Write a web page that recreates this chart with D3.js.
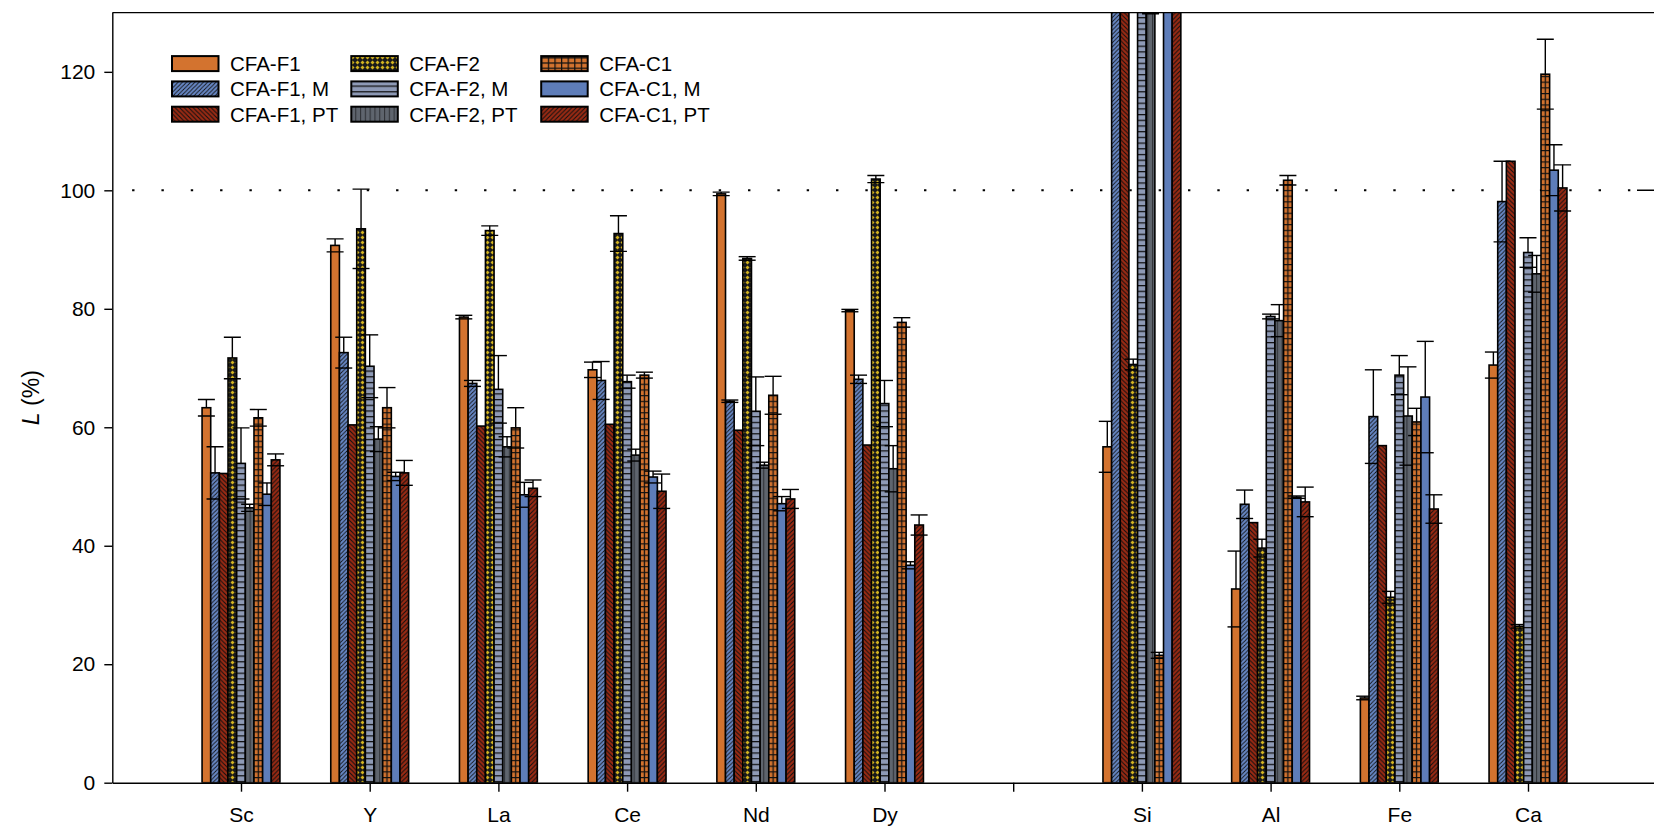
<!DOCTYPE html>
<html>
<head>
<meta charset="utf-8">
<script src="https://cdn.jsdelivr.net/npm/d3@7"></script>
<style>
  body { margin: 0; background: #fff; }
  text { font-family: "Liberation Sans", Arial, sans-serif; fill: #000; }
</style>
</head>
<body>
<svg id="chart" width="1654" height="826"></svg>
<script>
// Elements on the x axis (the empty slot separates REEs from major elements)
const categories = ["Sc", "Y", "La", "Ce", "Nd", "Dy", "", "Si", "Al", "Fe", "Ca"];
const seriesNames = ["CFA-F1", "CFA-F1, M", "CFA-F1, PT",
                     "CFA-F2", "CFA-F2, M", "CFA-F2, PT",
                     "CFA-C1", "CFA-C1, M", "CFA-C1, PT"];

// Leaching efficiency L (%) and its error, one array per sample
const f1     = [63.3, 90.7, 78.6, 69.7, 99.4, 79.7, null, 56.7, 32.7, 14.3, 70.5];
const f1Err  = [1.4, 1.1, 0.3, 1.3, 0.3, 0.2, null, 4.3, 6.4, 0.3, 2.2];
const f1M    = [52.3, 72.6, 67.4, 67.9, 64.4, 68.1, null, 140, 47.0, 61.8, 98.1];
const f1MErr = [4.4, 2.6, 0.5, 3.2, 0.2, 0.7, null, 0, 2.4, 7.9, 6.8];
const f1PT   = [52.2, 60.4, 60.2, 60.5, 59.5, 57.0, null, 140, 43.9, 56.9, 104.9];
const f1PTErr= [0, 0, 0, 0, 0, 0, null, 0, 0, 0, 0];
const f2     = [71.7, 93.5, 93.2, 92.7, 88.5, 101.9, null, 70.6, 39.6, 31.3, 26.4];
const f2Err  = [3.5, 6.7, 0.8, 3.0, 0.3, 0.6, null, 0.9, 1.5, 1.0, 0.3];
const f2M    = [53.9, 70.3, 66.4, 67.7, 62.7, 64.0, null, 140, 78.7, 68.8, 89.5];
const f2MErr = [6.0, 5.3, 5.7, 1.1, 5.8, 3.9, null, 0, 0.4, 3.3, 2.5];
const f2PT   = [46.4, 58.0, 56.7, 55.3, 53.6, 53.0, null, 130.6, 78.0, 61.9, 85.9];
const f2PTErr= [0.6, 2.1, 1.7, 1.0, 0.5, 3.9, null, 0.8, 2.7, 8.3, 3.1];
const c1     = [61.6, 63.3, 59.9, 68.8, 65.4, 77.7, null, 21.5, 101.7, 60.9, 119.6];
const c1Err  = [1.4, 3.4, 3.4, 0.5, 3.2, 0.8, null, 0.5, 0.8, 2.3, 5.9];
const c1M    = [48.7, 51.7, 48.6, 51.6, 47.1, 36.7, null, 140, 48.2, 65.1, 103.4];
const c1MErr = [1.9, 0.7, 2.1, 1.0, 1.2, 0.6, null, 0, 0.2, 9.4, 4.3];
const c1PT   = [54.5, 52.3, 49.7, 49.2, 47.9, 43.5, null, 140, 47.4, 46.2, 100.4];
const c1PTErr= [1.0, 2.1, 1.4, 2.9, 1.6, 1.7, null, 0, 2.5, 2.4, 3.9];

const yTicks = [0, 20, 40, 60, 80, 100, 120];
const refValue = 100;

const seriesValues = [f1, f1M, f1PT, f2, f2M, f2PT, c1, c1M, c1PT];
const seriesErrors = [f1Err, f1MErr, f1PTErr, f2Err, f2MErr, f2PTErr, c1Err, c1MErr, c1PTErr];

// colours
const ORANGE = "#D3732F", BLUE = "#6787C4", BLUE_SOLID = "#5E7DB9", RED = "#9B2A13",
      YELLOW = "#D2B21F", GREYBLUE = "#8E9AB6", DARKGREY = "#5F656E";

const svg = d3.select("#chart");
const defs = svg.append("defs");

const x = d3.scaleLinear().domain([-1, 11]).range([112.3, 1656.7]);
const y = d3.scaleLinear().domain([0, 130]).range([782.7, 12.6]);
const step = x(1) - x(0);
const bw = step * 0.605 / 9;
const barX = (i, j) => x(i) + (j - 4.5) * bw;

// ---- fill patterns ----
function pat(id, w, h, bg, draw, extra) {
  const p = defs.append("pattern").attr("id", id)
    .attr("patternUnits", "userSpaceOnUse").attr("width", w).attr("height", h);
  if (extra) extra(p);
  p.append("rect").attr("width", w).attr("height", h).attr("fill", bg);
  draw(p);
  return p;
}
const ln = (p, d, w, c) => p.append("path").attr("d", d).attr("stroke", c || "#111")
  .attr("stroke-width", w).attr("fill", "none");

// forward diagonal "/"
pat("fwdBlue", 4.2, 4.2, BLUE, p => ln(p, "M-1,1 L1,-1 M0,4.2 L4.2,0 M3.2,5.2 L5.2,3.2", 0.85));
pat("fwdRed", 4.5, 4.5, RED, p => ln(p, "M-1,1 L1,-1 M0,4.5 L4.5,0 M3.5,5.5 L5.5,3.5", 1.1));
// back diagonal "\"
pat("backRed", 4.5, 4.5, RED, p => ln(p, "M-1,3.5 L1,5.5 M0,0 L4.5,4.5 M3.5,-1 L5.5,1", 1.1));
// crosshatch with yellow diamonds
pat("crossYellow", 5, 5, "#1a1a1a", p => {
  p.append("path").attr("d", "M2.5,0.5 L4.5,2.5 L2.5,4.5 L0.5,2.5 Z").attr("fill", YELLOW);
});
// horizontal lines
pat("horizGrey", 10, 5.7, GREYBLUE, p => ln(p, "M0,0.6 L10,0.6", 1.3));
// vertical lines
pat("vertGrey", 4.8, 10, DARKGREY, p => ln(p, "M0.6,0 L0.6,10", 1.0, "#2b2e33"));
// legend grid for C1
pat("gridOrangeLegend", 6.6, 5.2, ORANGE, p => ln(p, "M0,0.6 L6.6,0.6 M0.6,0 L0.6,5.2", 1.3));
// per-bar grid for C1, so a vertical line sits on the bar centre
categories.forEach((c, i) => {
  if (!c) return;
  pat("gridOrange" + i, bw, 5.7, ORANGE,
      p => ln(p, `M0,0.6 L${bw},0.6 M${bw / 2},0 L${bw / 2},5.7`, 1.3),
      p => p.attr("x", barX(i, 6)).attr("y", y(0)));
});

const fills = [
  () => ORANGE, () => "url(#fwdBlue)", () => "url(#backRed)",
  () => "url(#crossYellow)", () => "url(#horizGrey)", () => "url(#vertGrey)",
  i => `url(#gridOrange${i})`, () => BLUE_SOLID, () => "url(#fwdRed)"
];
const legendFills = [ORANGE, "url(#fwdBlue)", "url(#backRed)",
  "url(#crossYellow)", "url(#horizGrey)", "url(#vertGrey)",
  "url(#gridOrangeLegend)", BLUE_SOLID, "url(#fwdRed)"];

// clip to plot area
defs.append("clipPath").attr("id", "plotClip")
  .append("rect").attr("x", x(-1)).attr("y", y(130))
  .attr("width", x(11) - x(-1)).attr("height", y(0) - y(130));

const plot = svg.append("g").attr("clip-path", "url(#plotClip)");

// reference line at 100 %
plot.append("line")
  .attr("x1", 132.1).attr("x2", 1633).attr("y1", y(refValue)).attr("y2", y(refValue))
  .attr("stroke", "#000").attr("stroke-width", 2)
  .attr("stroke-dasharray", "2.4 26.93");
plot.append("line")
  .attr("x1", 1637).attr("x2", x(11)).attr("y1", y(refValue)).attr("y2", y(refValue))
  .attr("stroke", "#000").attr("stroke-width", 1.4);

// bars and error bars, one sample at a time
const capW = 17;
seriesValues.forEach((vals, j) => {
  const g = plot.append("g");
  const data = vals.map((v, i) => ({ i, v, e: seriesErrors[j][i] })).filter(d => d.v != null);
  g.selectAll("rect").data(data).join("rect")
    .attr("x", d => barX(d.i, j)).attr("width", bw)
    .attr("y", d => y(d.v)).attr("height", d => y(0) - y(d.v))
    .attr("fill", d => fills[j](d.i))
    .attr("stroke", "#000").attr("stroke-width", 1.6);
  const eg = g.selectAll("g.err").data(data.filter(d => d.e > 0)).join("g").attr("class", "err");
  const cx = d => barX(d.i, j) + bw / 2;
  eg.append("line").attr("x1", cx).attr("x2", cx)
    .attr("y1", d => y(d.v)).attr("y2", d => y(d.v + d.e));
  eg.append("line").attr("x1", d => cx(d) - capW / 2).attr("x2", d => cx(d) + capW / 2)
    .attr("y1", d => y(d.v + d.e)).attr("y2", d => y(d.v + d.e));
  eg.append("line").attr("x1", d => cx(d) - capW / 2).attr("x2", d => cx(d) + capW / 2)
    .attr("y1", d => y(d.v - d.e)).attr("y2", d => y(d.v - d.e));
  eg.selectAll("line").attr("stroke", "#000").attr("stroke-width", 1.4);
});

// axes
const yAxis = svg.append("g").attr("transform", `translate(${x(-1)},0)`)
  .call(d3.axisLeft(y).tickValues(yTicks).tickSize(8).tickSizeOuter(0).tickPadding(9));
yAxis.selectAll("text").attr("font-size", 21).attr("font-family", "Liberation Sans, Arial");
const xAxis = svg.append("g").attr("transform", `translate(0,${y(0)})`)
  .call(d3.axisBottom(x).tickValues(d3.range(0, categories.length))
    .tickFormat(i => categories[i]).tickSize(9).tickSizeOuter(0).tickPadding(15));
xAxis.selectAll("text").attr("font-size", 21).attr("font-family", "Liberation Sans, Arial");
svg.selectAll(".domain, .tick line").attr("stroke", "#000").attr("stroke-width", 1.4);

// top and right frame
svg.append("line").attr("x1", x(-1)).attr("x2", x(11)).attr("y1", y(130)).attr("y2", y(130))
  .attr("stroke", "#000").attr("stroke-width", 1.4);
svg.append("line").attr("x1", x(11)).attr("x2", x(11)).attr("y1", y(130)).attr("y2", y(0))
  .attr("stroke", "#000").attr("stroke-width", 1.4);

// y axis title
const yt = svg.append("text").attr("transform", `translate(39,${(y(0) + y(130)) / 2}) rotate(-90)`)
  .attr("text-anchor", "middle").attr("font-size", 23);
yt.append("tspan").attr("font-style", "italic").text("L");
yt.append("tspan").text(" (%)");

// legend
const legendColX = [172, 351.3, 541.2];
const legend = svg.append("g");
seriesNames.forEach((name, j) => {
  const col = Math.floor(j / 3), row = j % 3;
  const lx = legendColX[col], ly = 63.6 + row * 25.3;
  legend.append("rect").attr("x", lx).attr("y", ly - 7.5).attr("width", 46.5).attr("height", 15)
    .attr("fill", legendFills[j]).attr("stroke", "#000").attr("stroke-width", 2);
  legend.append("text").attr("x", lx + 58).attr("y", ly + 7.3).attr("font-size", 20.5).text(name);
});
</script>
</body>
</html>
